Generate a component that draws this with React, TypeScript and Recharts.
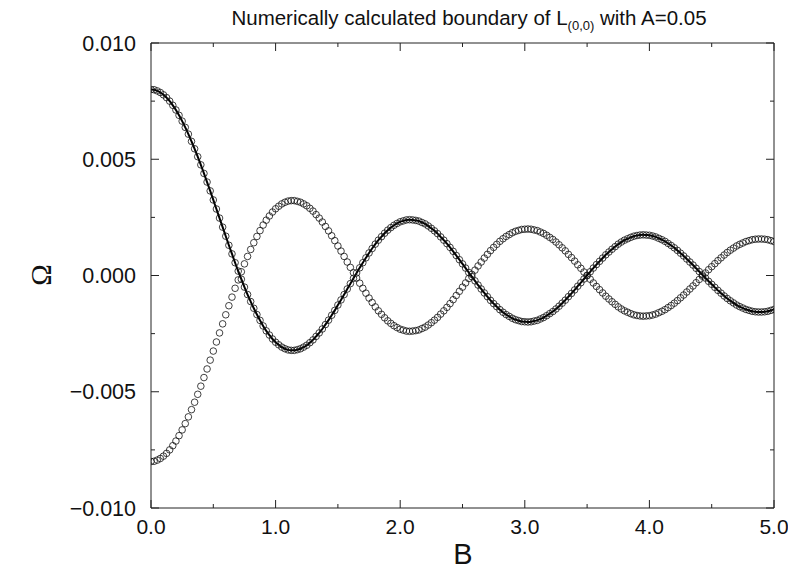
import React from 'react';
import { ComposedChart, Line, XAxis, YAxis } from 'recharts';

// magnetic field B (x) sampled every 0.025
const bValues = [
  0, 0.025, 0.05, 0.075, 0.1, 0.125, 0.15, 0.175, 0.2, 0.225, 0.25, 0.275, 0.3, 0.325, 0.35, 0.375, 0.4, 0.425, 0.45, 0.475,
  0.5, 0.525, 0.55, 0.575, 0.6, 0.625, 0.65, 0.675, 0.7, 0.725, 0.75, 0.775, 0.8, 0.825, 0.85, 0.875, 0.9, 0.925, 0.95, 0.975,
  1, 1.025, 1.05, 1.075, 1.1, 1.125, 1.15, 1.175, 1.2, 1.225, 1.25, 1.275, 1.3, 1.325, 1.35, 1.375, 1.4, 1.425, 1.45, 1.475,
  1.5, 1.525, 1.55, 1.575, 1.6, 1.625, 1.65, 1.675, 1.7, 1.725, 1.75, 1.775, 1.8, 1.825, 1.85, 1.875, 1.9, 1.925, 1.95, 1.975,
  2, 2.025, 2.05, 2.075, 2.1, 2.125, 2.15, 2.175, 2.2, 2.225, 2.25, 2.275, 2.3, 2.325, 2.35, 2.375, 2.4, 2.425, 2.45, 2.475,
  2.5, 2.525, 2.55, 2.575, 2.6, 2.625, 2.65, 2.675, 2.7, 2.725, 2.75, 2.775, 2.8, 2.825, 2.85, 2.875, 2.9, 2.925, 2.95, 2.975,
  3, 3.025, 3.05, 3.075, 3.1, 3.125, 3.15, 3.175, 3.2, 3.225, 3.25, 3.275, 3.3, 3.325, 3.35, 3.375, 3.4, 3.425, 3.45, 3.475,
  3.5, 3.525, 3.55, 3.575, 3.6, 3.625, 3.65, 3.675, 3.7, 3.725, 3.75, 3.775, 3.8, 3.825, 3.85, 3.875, 3.9, 3.925, 3.95, 3.975,
  4, 4.025, 4.05, 4.075, 4.1, 4.125, 4.15, 4.175, 4.2, 4.225, 4.25, 4.275, 4.3, 4.325, 4.35, 4.375, 4.4, 4.425, 4.45, 4.475,
  4.5, 4.525, 4.55, 4.575, 4.6, 4.625, 4.65, 4.675, 4.7, 4.725, 4.75, 4.775, 4.8, 4.825, 4.85, 4.875, 4.9, 4.925, 4.95, 4.975,
  5,
];

// upper branch (starts at +0.008), circles + solid line
const omegaUpper = [
  0.008, 0.00799, 0.00794, 0.00787, 0.00777, 0.00765, 0.0075, 0.00732, 0.00712, 0.00689, 0.00664, 0.00637, 0.00608, 0.00577, 0.00545, 0.00511, 0.00476, 0.00439, 0.00402, 0.00364,
  0.00325, 0.00286, 0.00247, 0.00208, 0.00169, 0.0013, 0.00093, 0.00055, 0.00019, -0.00016, -0.0005, -0.00082, -0.00112, -0.00141, -0.00168, -0.00193, -0.00217, -0.00238, -0.00256, -0.00273,
  -0.00287, -0.00298, -0.00308, -0.00315, -0.0032, -0.00322, -0.00322, -0.00319, -0.00315, -0.00308, -0.003, -0.00289, -0.00277, -0.00262, -0.00247, -0.0023, -0.00211, -0.00192, -0.00171, -0.0015,
  -0.00127, -0.00105, -0.00082, -0.00058, -0.00035, -0.00012, 0.00011, 0.00033, 0.00055, 0.00076, 0.00097, 0.00116, 0.00135, 0.00152, 0.00167, 0.00182, 0.00195, 0.00206, 0.00216, 0.00224,
  0.00231, 0.00235, 0.00239, 0.0024, 0.00239, 0.00237, 0.00234, 0.00228, 0.00222, 0.00213, 0.00203, 0.00192, 0.0018, 0.00166, 0.00152, 0.00137, 0.00121, 0.00104, 0.00086, 0.00068,
  0.0005, 0.00032, 0.00013, -0.00005, -0.00023, -0.00041, -0.00058, -0.00075, -0.00091, -0.00107, -0.00121, -0.00134, -0.00147, -0.00158, -0.00168, -0.00176, -0.00184, -0.0019, -0.00194, -0.00198,
  -0.00199, -0.002, -0.00199, -0.00196, -0.00193, -0.00187, -0.00181, -0.00173, -0.00164, -0.00155, -0.00144, -0.00132, -0.00119, -0.00106, -0.00091, -0.00077, -0.00062, -0.00046, -0.00031, -0.00015,
  0.00001, 0.00016, 0.00032, 0.00047, 0.00061, 0.00075, 0.00089, 0.00101, 0.00113, 0.00124, 0.00135, 0.00144, 0.00152, 0.00158, 0.00164, 0.00169, 0.00172, 0.00174, 0.00175, 0.00174,
  0.00173, 0.0017, 0.00166, 0.0016, 0.00154, 0.00147, 0.00138, 0.00129, 0.00119, 0.00108, 0.00096, 0.00084, 0.00071, 0.00058, 0.00045, 0.00031, 0.00017, 0.00003, -0.00011, -0.00025,
  -0.00038, -0.00051, -0.00064, -0.00076, -0.00088, -0.00099, -0.00109, -0.00118, -0.00127, -0.00134, -0.0014, -0.00146, -0.0015, -0.00154, -0.00156, -0.00157, -0.00157, -0.00156, -0.00154, -0.0015,
  -0.00146,
];

// lower branch (starts at -0.008), circles only
const omegaLower = [
  -0.008, -0.00799, -0.00794, -0.00787, -0.00777, -0.00765, -0.0075, -0.00732, -0.00712, -0.00689, -0.00664, -0.00637, -0.00608, -0.00577, -0.00545, -0.00511, -0.00476, -0.00439, -0.00402, -0.00364,
  -0.00325, -0.00286, -0.00247, -0.00208, -0.00169, -0.0013, -0.00093, -0.00055, -0.00019, 0.00016, 0.0005, 0.00082, 0.00112, 0.00141, 0.00168, 0.00193, 0.00217, 0.00238, 0.00256, 0.00273,
  0.00287, 0.00298, 0.00308, 0.00315, 0.0032, 0.00322, 0.00322, 0.00319, 0.00315, 0.00308, 0.003, 0.00289, 0.00277, 0.00262, 0.00247, 0.0023, 0.00211, 0.00192, 0.00171, 0.0015,
  0.00127, 0.00105, 0.00082, 0.00058, 0.00035, 0.00012, -0.00011, -0.00033, -0.00055, -0.00076, -0.00097, -0.00116, -0.00135, -0.00152, -0.00167, -0.00182, -0.00195, -0.00206, -0.00216, -0.00224,
  -0.00231, -0.00235, -0.00239, -0.0024, -0.00239, -0.00237, -0.00234, -0.00228, -0.00222, -0.00213, -0.00203, -0.00192, -0.0018, -0.00166, -0.00152, -0.00137, -0.00121, -0.00104, -0.00086, -0.00068,
  -0.0005, -0.00032, -0.00013, 0.00005, 0.00023, 0.00041, 0.00058, 0.00075, 0.00091, 0.00107, 0.00121, 0.00134, 0.00147, 0.00158, 0.00168, 0.00176, 0.00184, 0.0019, 0.00194, 0.00198,
  0.00199, 0.002, 0.00199, 0.00196, 0.00193, 0.00187, 0.00181, 0.00173, 0.00164, 0.00155, 0.00144, 0.00132, 0.00119, 0.00106, 0.00091, 0.00077, 0.00062, 0.00046, 0.00031, 0.00015,
  -0.00001, -0.00016, -0.00032, -0.00047, -0.00061, -0.00075, -0.00089, -0.00101, -0.00113, -0.00124, -0.00135, -0.00144, -0.00152, -0.00158, -0.00164, -0.00169, -0.00172, -0.00174, -0.00175, -0.00174,
  -0.00173, -0.0017, -0.00166, -0.0016, -0.00154, -0.00147, -0.00138, -0.00129, -0.00119, -0.00108, -0.00096, -0.00084, -0.00071, -0.00058, -0.00045, -0.00031, -0.00017, -0.00003, 0.00011, 0.00025,
  0.00038, 0.00051, 0.00064, 0.00076, 0.00088, 0.00099, 0.00109, 0.00118, 0.00127, 0.00134, 0.0014, 0.00146, 0.0015, 0.00154, 0.00156, 0.00157, 0.00157, 0.00156, 0.00154, 0.0015,
  0.00146,
];

const xTicks = [0, 0.5, 1, 1.5, 2, 2.5, 3, 3.5, 4, 4.5, 5];
const yTicks = [-0.01, -0.0075, -0.005, -0.0025, 0, 0.0025, 0.005, 0.0075, 0.01];

const W = 788;
const H = 570;
const PLOT = { left: 151, right: 774, top: 43, bottom: 508 };
const LEFT_W = 60;
const BOTTOM_H = 30;
const FONT = '"Liberation Sans", Arial, Helvetica, sans-serif';
const INK = '#222';

const isMajorX = (v: number) => Math.abs(v - Math.round(v)) < 1e-6;
const isMajorY = (v: number) => Math.abs(v / 0.005 - Math.round(v / 0.005)) < 1e-6;

const fmtY = (v: number) => {
  const s = Math.abs(v).toFixed(3);
  return v < -1e-9 ? '\u2212' + s : s;
};

const BottomTick = (props: any) => {
  const { x, y, payload } = props;
  const major = isMajorX(payload.value);
  return (
    <g>
      <line x1={x} y1={y} x2={x} y2={y - (major ? 8 : 4)} stroke={INK} strokeWidth={1} />
      {major && (
        <text x={x} y={y + 26} textAnchor="middle" fontSize={21} fontFamily={FONT} fill="#111">
          {payload.value.toFixed(1)}
        </text>
      )}
    </g>
  );
};

const TopTick = (props: any) => {
  const { x, y, payload } = props;
  const major = isMajorX(payload.value);
  return <line x1={x} y1={y} x2={x} y2={y + (major ? 8 : 4)} stroke={INK} strokeWidth={1} />;
};

const LeftTick = (props: any) => {
  const { x, y, payload } = props;
  const major = isMajorY(payload.value);
  return (
    <g>
      <line x1={x} y1={y} x2={x + (major ? 8 : 4)} y2={y} stroke={INK} strokeWidth={1} />
      {major && (
        <text x={x - 15} y={y + 7.5} textAnchor="end" fontSize={21.5} fontFamily={FONT} fill="#111">
          {fmtY(payload.value)}
        </text>
      )}
    </g>
  );
};

const RightTick = (props: any) => {
  const { x, y, payload } = props;
  const major = isMajorY(payload.value);
  return <line x1={x} y1={y} x2={x - (major ? 8 : 4)} y2={y} stroke={INK} strokeWidth={1} />;
};

const circle = { r: 3.3, fill: 'none', stroke: '#111', strokeWidth: 0.8 };

export default function App() {
  const data = bValues.map((b, i) => ({ B: b, upper: omegaUpper[i], lower: omegaLower[i] }));

  return (
    <div style={{ position: 'absolute', left: 0, top: 0, width: W, height: H, background: '#fff' }}>
      <ComposedChart
        width={W}
        height={H}
        data={data}
        margin={{
          top: PLOT.top - 1,
          right: W - PLOT.right - 1,
          bottom: H - PLOT.bottom - BOTTOM_H,
          left: PLOT.left - LEFT_W,
        }}
      >
        <XAxis
          xAxisId={0}
          dataKey="B"
          type="number"
          domain={[0, 5]}
          ticks={xTicks}
          interval={0}
          height={BOTTOM_H}
          tickSize={0}
          tickMargin={0}
          tickLine={false}
          axisLine={{ stroke: INK, strokeWidth: 1 }}
          tick={<BottomTick />}
          allowDataOverflow
        />
        <XAxis
          xAxisId="top"
          orientation="top"
          dataKey="B"
          type="number"
          domain={[0, 5]}
          ticks={xTicks}
          interval={0}
          height={1}
          tickSize={0}
          tickMargin={0}
          tickLine={false}
          axisLine={{ stroke: INK, strokeWidth: 1 }}
          tick={<TopTick />}
          allowDataOverflow
        />
        <YAxis
          yAxisId={0}
          type="number"
          domain={[-0.01, 0.01]}
          ticks={yTicks}
          interval={0}
          width={LEFT_W}
          tickSize={0}
          tickMargin={0}
          tickLine={false}
          axisLine={{ stroke: INK, strokeWidth: 1 }}
          tick={<LeftTick />}
          allowDataOverflow
        />
        <YAxis
          yAxisId="right"
          orientation="right"
          type="number"
          domain={[-0.01, 0.01]}
          ticks={yTicks}
          interval={0}
          width={1}
          tickSize={0}
          tickMargin={0}
          tickLine={false}
          axisLine={{ stroke: INK, strokeWidth: 1 }}
          tick={<RightTick />}
          allowDataOverflow
        />
        <Line
          xAxisId={0}
          yAxisId={0}
          dataKey="lower"
          type="linear"
          stroke="none"
          dot={circle}
          activeDot={false}
          isAnimationActive={false}
        />
        <Line
          xAxisId={0}
          yAxisId={0}
          dataKey="upper"
          type="monotone"
          stroke="#000"
          strokeWidth={2}
          dot={circle}
          activeDot={false}
          isAnimationActive={false}
        />
      </ComposedChart>
      <svg
        width={W}
        height={H}
        style={{ position: 'absolute', left: 0, top: 0, pointerEvents: 'none' }}
      >
        <text x={469} y={25} textAnchor="middle" fontSize={20.5} fontFamily={FONT} fill="#111">
          Numerically calculated boundary of L
          <tspan fontSize={13} dy={5}>(0,0)</tspan>
          <tspan fontSize={20.5} dy={-5}> with A=0.05</tspan>
        </text>
        <text x={463} y={564} textAnchor="middle" fontSize={29} fontFamily={FONT} fill="#111">
          B
        </text>
        <text
          x={41}
          y={275}
          textAnchor="middle"
          dominantBaseline="central"
          fontSize={29}
          fontFamily='"Liberation Serif", "DejaVu Serif", serif'
          fill="#111"
          transform="rotate(-90 41 275)"
        >
          Ω
        </text>
      </svg>
    </div>
  );
}
